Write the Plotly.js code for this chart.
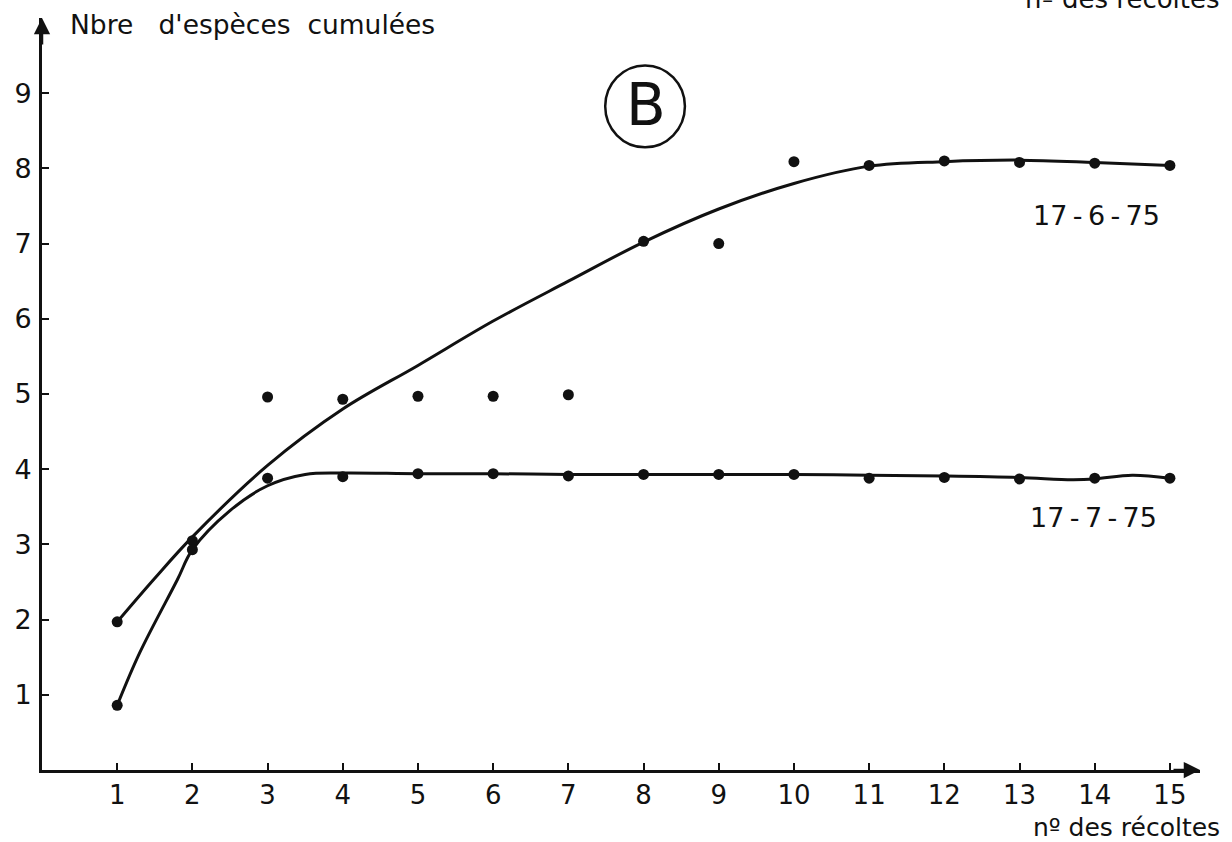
<!DOCTYPE html>
<html>
<head>
<meta charset="utf-8">
<script src="https://cdn.plot.ly/plotly-3.0.1.min.js"></script>
<style>
  html, body { margin: 0; padding: 0; background: #ffffff; }
  #chart { width: 1232px; height: 842px; }
</style>
</head>
<body>
<div id="chart"></div>
<script>
// Harvest number (nº des récoltes)
const harvests = [1, 2, 3, 4, 5, 6, 7, 8, 9, 10, 11, 12, 13, 14, 15];
const harvestLabels = ["1", "2", "3", "4", "5", "6", "7", "8", "9", "10", "11", "12", "13", "14", "15"];

// Cumulative number of species, observed points
const june17 = [1.97, 3.05, 4.96, 4.93, 4.97, 4.97, 4.99, 7.03, 7.0, 8.09, 8.04, 8.1, 8.08, 8.07, 8.04];
const july17 = [0.86, 2.93, 3.88, 3.9, 3.94, 3.94, 3.91, 3.93, 3.93, 3.93, 3.88, 3.89, 3.87, 3.88, 3.88];

// Hand-fitted trend curves
const june17CurveX = [1, 1.5, 2, 3, 4, 5, 6, 7, 8, 9, 10, 11, 12, 13, 14, 15];
const june17CurveY = [1.97, 2.55, 3.1, 4.05, 4.8, 5.38, 5.97, 6.5, 7.02, 7.46, 7.8, 8.03, 8.09, 8.11, 8.08, 8.04];
const july17CurveX = [1, 1.3, 1.8, 2, 2.5, 3, 3.5, 4, 5, 6, 7, 8, 9, 10, 11, 12, 13, 13.7, 14, 14.5, 15];
const july17CurveY = [0.86, 1.56, 2.53, 2.93, 3.45, 3.78, 3.93, 3.95, 3.94, 3.94, 3.93, 3.93, 3.93, 3.93, 3.92, 3.91, 3.89, 3.86, 3.87, 3.92, 3.88];

const yTicks = [1, 2, 3, 4, 5, 6, 7, 8, 9];
const yTickLabels = ["1", "2", "3", "4", "5", "6", "7", "8", "9"];

const ink = "#111111";
const letterFont = "DejaVu Sans, Liberation Sans, sans-serif";

const traces = [
  { x: june17CurveX, y: june17CurveY, mode: "lines", line: { color: ink, width: 3, shape: "spline", smoothing: 1 }, hoverinfo: "skip" },
  { x: july17CurveX, y: july17CurveY, mode: "lines", line: { color: ink, width: 3, shape: "spline", smoothing: 1 }, hoverinfo: "skip" },
  { x: harvests, y: june17, mode: "markers", name: "17-6-75", marker: { color: ink, size: 11 } },
  { x: harvests, y: july17, mode: "markers", name: "17-7-75", marker: { color: ink, size: 11 } }
];

const nb = "\u00a0";
const thin = "\u2009";
const spaced = s => s.split("-").join(thin + "-" + thin);

const layout = {
  width: 1232,
  height: 842,
  margin: { l: 42, r: 32, t: 18, b: 72 },
  paper_bgcolor: "#ffffff",
  plot_bgcolor: "#ffffff",
  showlegend: false,
  font: { family: letterFont, size: 25, color: ink },
  xaxis: {
    range: [0, 15.4],
    tickvals: harvests,
    ticktext: harvestLabels,
    ticks: "inside",
    ticklen: 7,
    tickwidth: 2,
    tickcolor: ink,
    showline: true,
    linewidth: 3,
    linecolor: ink,
    showgrid: false,
    zeroline: false,
    ticklabelstandoff: 0,
    tickfont: { family: letterFont, size: 26, color: ink },
    fixedrange: true
  },
  yaxis: {
    range: [0, 10],
    tickvals: yTicks,
    ticktext: yTickLabels,
    ticks: "inside",
    ticklen: 7,
    tickwidth: 2,
    tickcolor: ink,
    showline: true,
    linewidth: 3,
    linecolor: ink,
    showgrid: false,
    zeroline: false,
    ticklabelstandoff: 2,
    tickfont: { family: letterFont, size: 27, color: ink },
    fixedrange: true
  },
  shapes: [
    { type: "circle", xref: "x", yref: "y", x0: 7.49, x1: 8.55, y0: 8.28, y1: 9.37, line: { color: ink, width: 2.5 } }
  ],
  annotations: [
    // axis arrowheads
    { xref: "x", yref: "y", x: 15.4, y: 0, ax: -28, ay: 0, axref: "pixel", ayref: "pixel", showarrow: true, arrowhead: 2, arrowsize: 1.3, arrowwidth: 2.5, arrowcolor: ink, text: "" },
    { xref: "x", yref: "y", x: 0, y: 10, ax: 0, ay: 28, axref: "pixel", ayref: "pixel", showarrow: true, arrowhead: 2, arrowsize: 1.3, arrowwidth: 2.5, arrowcolor: ink, text: "" },
    // axis titles
    { xref: "paper", yref: "paper", x: 0.0225, y: 0.991, xanchor: "left", yanchor: "middle", showarrow: false,
      text: "Nbre" + nb + nb + nb + "d'espèces" + nb + nb + "cumulées", font: { family: letterFont, size: 26.5, color: ink } },
    { xref: "paper", yref: "paper", x: 1.019, y: -0.0765, xanchor: "right", yanchor: "middle", showarrow: false,
      text: "nº des récoltes", font: { family: letterFont, size: 25, color: ink } },
    { xref: "paper", yref: "paper", x: 1.019, y: 1.003, xanchor: "right", yanchor: "bottom", showarrow: false,
      text: "nº des récoltes", font: { family: letterFont, size: 26, color: ink } },
    // series labels
    { xref: "x", yref: "y", x: 14.03, y: 7.38, showarrow: false, text: spaced("17-6-75"), font: { family: letterFont, size: 27, color: ink } },
    { xref: "x", yref: "y", x: 13.99, y: 3.36, showarrow: false, text: spaced("17-7-75"), font: { family: letterFont, size: 27, color: ink } },
    // panel letter
    { xref: "x", yref: "y", x: 8.03, y: 8.84, showarrow: false, text: "B", font: { family: letterFont, size: 58, color: ink } }
  ]
};

Plotly.newPlot("chart", traces, layout, { displayModeBar: false, staticPlot: true });
</script>
</body>
</html>
